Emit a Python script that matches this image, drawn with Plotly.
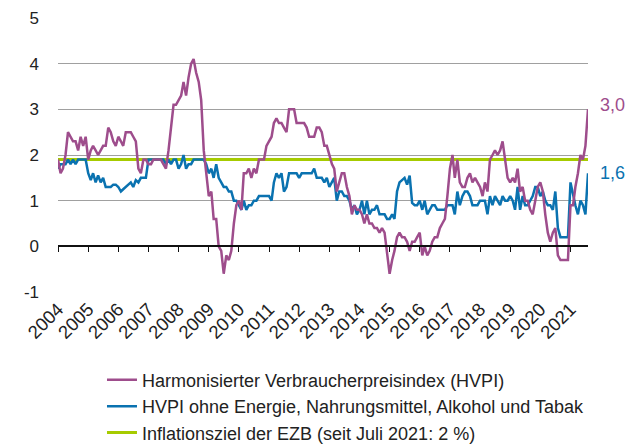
import pandas as pd
import plotly.graph_objects as go

# Monthly values, Jan 2004 - Aug 2021 (year-on-year change in %)
hvpi = [
    1.9, 1.6, 1.7, 2.0, 2.5, 2.4, 2.3, 2.3, 2.1, 2.4, 2.2, 2.4,   # 2004
    1.9, 2.1, 2.2, 2.1, 2.0, 2.1, 2.2, 2.2, 2.6, 2.5, 2.3, 2.2,   # 2005
    2.4, 2.3, 2.2, 2.5, 2.5, 2.5, 2.4, 2.3, 1.7, 1.6, 1.9, 1.9,   # 2006
    1.8, 1.8, 1.9, 1.9, 1.9, 1.9, 1.8, 1.7, 2.1, 2.6, 3.1, 3.1,   # 2007
    3.2, 3.3, 3.6, 3.3, 3.7, 4.0, 4.1, 3.8, 3.6, 3.2, 2.1, 1.6,   # 2008
    1.1, 1.2, 0.6, 0.6, 0.0, -0.1, -0.6, -0.2, -0.3, -0.1, 0.5, 0.9,  # 2009
    1.0, 0.8, 1.6, 1.6, 1.7, 1.5, 1.7, 1.6, 1.9, 1.9, 1.9, 2.2,   # 2010
    2.3, 2.4, 2.7, 2.8, 2.7, 2.7, 2.6, 2.5, 3.0, 3.0, 3.0, 2.7,   # 2011
    2.7, 2.7, 2.7, 2.6, 2.4, 2.4, 2.4, 2.6, 2.6, 2.5, 2.2, 2.2,   # 2012
    2.0, 1.8, 1.7, 1.2, 1.4, 1.6, 1.6, 1.3, 1.1, 0.7, 0.9, 0.8,   # 2013
    0.8, 0.7, 0.5, 0.7, 0.5, 0.5, 0.4, 0.4, 0.3, 0.4, 0.3, -0.2,  # 2014
    -0.6, -0.3, -0.1, 0.2, 0.3, 0.2, 0.2, 0.1, -0.1, 0.1, 0.1, 0.2,  # 2015
    0.3, -0.2, 0.0, -0.2, -0.1, 0.1, 0.2, 0.2, 0.4, 0.5, 0.6, 1.1,  # 2016
    1.7, 2.0, 1.5, 1.9, 1.4, 1.3, 1.3, 1.5, 1.6, 1.4, 1.5, 1.4,   # 2017
    1.3, 1.1, 1.4, 1.2, 1.9, 2.0, 2.1, 2.0, 2.1, 2.3, 1.9, 1.5,   # 2018
    1.4, 1.5, 1.4, 1.7, 1.2, 1.3, 1.0, 1.0, 0.8, 0.7, 1.0, 1.3,   # 2019
    1.4, 1.2, 0.7, 0.3, 0.1, 0.3, 0.4, -0.2, -0.3, -0.3, -0.3, -0.3,  # 2020
    0.9, 0.9, 1.3, 1.6, 2.0, 1.9, 2.2, 3.0,                       # 2021
]

kern = [
    1.7, 1.8, 1.8, 1.8, 1.9, 1.8, 1.9, 1.8, 1.9, 1.9, 1.9, 1.9,   # 2004
    1.6, 1.45, 1.6, 1.4, 1.55, 1.4, 1.5, 1.3, 1.3, 1.3, 1.35, 1.35,  # 2005
    1.3, 1.2, 1.25, 1.3, 1.35, 1.4, 1.3, 1.45, 1.4, 1.5, 1.5, 1.5,  # 2006
    1.9, 1.9, 1.9, 1.9, 1.9, 1.9, 1.9, 1.8, 1.9, 1.8, 1.9, 1.9,   # 2007
    1.7, 1.8, 2.0, 1.7, 1.8, 1.8, 1.9, 1.9, 1.9, 1.9, 1.9, 1.8,   # 2008
    1.6, 1.7, 1.5, 1.8, 1.5, 1.4, 1.3, 1.3, 1.2, 1.2, 1.0, 1.0,   # 2009
    0.9, 0.8, 1.0, 0.8, 0.9, 0.9, 1.0, 1.0, 1.1, 1.1, 1.1, 1.1,   # 2010
    1.1, 1.0, 1.4, 1.6, 1.5, 1.6, 1.2, 1.3, 1.6, 1.6, 1.6, 1.6,   # 2011
    1.5, 1.6, 1.6, 1.6, 1.6, 1.6, 1.7, 1.5, 1.5, 1.5, 1.4, 1.5,   # 2012
    1.3, 1.4, 1.5, 1.0, 1.2, 1.2, 1.1, 1.1, 1.0, 0.8, 0.9, 0.7,   # 2013
    0.8, 1.0, 0.7, 1.0, 0.7, 0.8, 0.8, 0.9, 0.7, 0.7, 0.7, 0.6,   # 2014
    0.6, 0.7, 0.6, 1.2, 1.4, 1.45, 1.5, 1.35, 1.55, 0.95, 0.9, 0.9,  # 2015
    1.0, 0.8, 1.0, 0.7, 0.8, 0.9, 0.9, 0.8, 0.8, 0.8, 0.8, 0.9,   # 2016
    0.9, 0.9, 0.7, 1.2, 0.9, 1.1, 1.2, 1.2, 1.1, 0.9, 0.9, 0.9,   # 2017
    1.0, 1.0, 1.0, 0.7, 1.1, 0.9, 1.1, 1.0, 0.9, 1.1, 1.0, 1.0,   # 2018
    1.1, 1.0, 0.8, 1.3, 0.8, 1.1, 0.9, 0.9, 1.0, 1.1, 1.3, 1.3,   # 2019
    1.1, 1.2, 1.0, 0.9, 0.9, 0.8, 1.2, 0.4, 0.2, 0.2, 0.2, 0.2,   # 2020
    1.4, 1.1, 0.9, 0.7, 1.0, 0.9, 0.7, 1.6,                       # 2021
]

ziel_wert = 1.9
jahre = list(range(2004, 2022))
ytick_vals = [-1, 0, 1, 2, 3, 4, 5]

namen = [
    "Harmonisierter Verbraucherpreisindex (HVPI)",
    "HVPI ohne Energie, Nahrungsmittel, Alkohol und Tabak",
    "Inflationsziel der EZB (seit Juli 2021: 2 %)",
]
end_labels = ["3,0", "1,6"]

monate = pd.date_range("2004-01-01", periods=len(hvpi), freq="MS")
ziel = [ziel_wert] * len(monate)

C_PURPLE = "#9e4d8c"
C_BLUE = "#0a72b0"
C_GREEN = "#a6cb00"
FONT = "Liberation Sans, Arial, sans-serif"

fig = go.Figure()
fig.add_trace(go.Scatter(x=monate, y=ziel, mode="lines", name=namen[2],
                         line=dict(color=C_GREEN, width=3), legendrank=3))
fig.add_trace(go.Scatter(x=monate, y=kern, mode="lines", name=namen[1],
                         line=dict(color=C_BLUE, width=2.5), legendrank=2))
fig.add_trace(go.Scatter(x=monate, y=hvpi, mode="lines", name=namen[0],
                         line=dict(color=C_PURPLE, width=2.5), legendrank=1))
# carrier trace for the zero-line axis with year ticks (draws nothing)
fig.add_trace(go.Scatter(x=[monate[0]], y=[None], mode="lines", xaxis="x2",
                         showlegend=False, hoverinfo="skip"))

xr = [monate[0], monate[-1]]
tickvals = [pd.Timestamp(f"{j}-01-01") for j in jahre]

# page body adds an 8px margin, so the figure is 8px smaller each way
fig.update_layout(
    width=632, height=436,
    margin=dict(l=50, r=52, t=10, b=152, autoexpand=False),
    paper_bgcolor="white", plot_bgcolor="white",
    font=dict(family=FONT, color="#222222"),
    showlegend=True,
    legend=dict(x=0.083, y=-0.254, xanchor="left", yanchor="top",
                font=dict(size=18, color="#222222"),
                tracegroupgap=0, itemwidth=30, bgcolor="rgba(0,0,0,0)"),
    xaxis=dict(type="date", range=xr, tickvals=tickvals, automargin=False,
               ticktext=[str(j) for j in jahre], tickangle=-45,
               showgrid=False, zeroline=False, showline=False, ticks="",
               ticklabelstandoff=2,
               tickfont=dict(size=18.5, color="#222222")),
    xaxis2=dict(type="date", range=xr, overlaying="x", matches="x",
                anchor="free", position=1/6, tickvals=tickvals,
                showticklabels=False, showgrid=False, zeroline=False,
                automargin=False,
                showline=True, linecolor="#111111", linewidth=1.5,
                ticks="outside", ticklen=5, tickcolor="#111111", tickwidth=1),
    yaxis=dict(range=[-1, 5], tickvals=ytick_vals, automargin=False,
               ticktext=[str(v) for v in ytick_vals],
               showgrid=True, gridcolor="#a0a0a0", gridwidth=1,
               zeroline=False, showline=False, ticks="",
               ticklabelstandoff=18,
               tickfont=dict(size=17, color="#222222")),
)

fig.add_annotation(x=1, xref="paper", y=hvpi[-1], yref="y", text=end_labels[0],
                   showarrow=False, xanchor="left", xshift=10, yshift=4,
                   font=dict(size=18, color=C_PURPLE, family=FONT))
fig.add_annotation(x=1, xref="paper", y=kern[-1], yref="y", text=end_labels[1],
                   showarrow=False, xanchor="left", xshift=10,
                   font=dict(size=18, color=C_BLUE, family=FONT))

fig.write_html("out.html")
